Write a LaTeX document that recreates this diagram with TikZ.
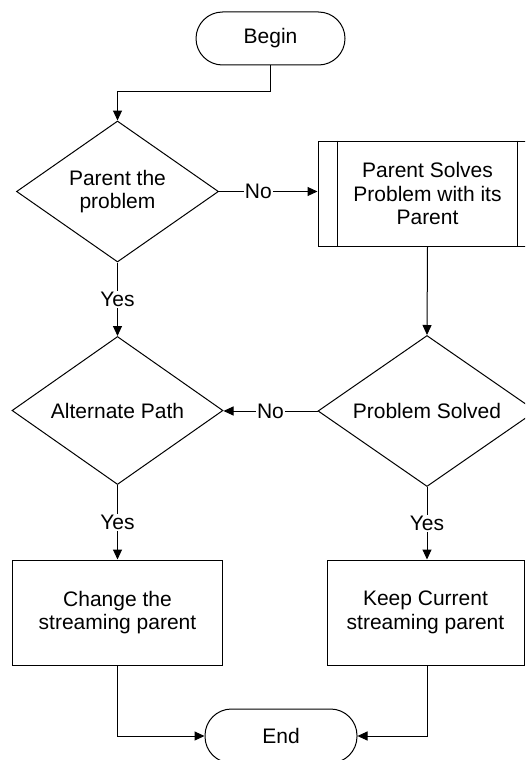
\documentclass[tikz,border=0pt]{standalone}
\usepackage{fontspec}
\setmainfont{Liberation Sans}
\usetikzlibrary{shapes.geometric,arrows.meta}
\begin{document}
\begin{tikzpicture}[x=1pt,y=-1pt,
  every node/.style={font=\fontsize{21}{23.5}\selectfont, text=black},
  base/.style={draw=black, line width=1pt, fill=white, inner sep=0pt, align=center},
  terminal/.style={base, rectangle, rounded corners=26.5pt},
  decision/.style={base, diamond, aspect=1.4},
  process/.style={base, rectangle},
  flow/.style={draw=black, line width=1pt, -{Triangle[length=10pt,width=9pt]}},
  tag/.style={fill=white, inner sep=1pt}
]
\clip (0,0) rectangle (525,760);
\useasboundingbox (0,0) rectangle (525,760);

% shapes
\node[terminal, minimum width=149pt, minimum height=53pt] (begin) at (270.5,38.5) {Begin};
\node[decision, minimum width=202pt, minimum height=141pt] (d1) at (117.5,191.5) {Parent the\\problem};
\node[process, minimum width=219pt, minimum height=105pt] (proc) at (427.5,193.5) {Parent Solves\\Problem with its\\Parent};
\draw[line width=1pt] ([xshift=20pt]proc.north west) -- ([xshift=20pt]proc.south west);
\draw[line width=1pt] ([xshift=-20pt]proc.north east) -- ([xshift=-20pt]proc.south east);
\node[decision, minimum width=218pt, minimum height=151pt] (d2) at (427,411) {Problem Solved};
\node[decision, minimum width=211pt, minimum height=148pt] (d3) at (117.5,410.5) {Alternate Path};
\node[process, minimum width=210pt, minimum height=105pt] (box1) at (117.5,612.5) {Change the\\streaming parent};
\node[process, minimum width=197pt, minimum height=105pt] (box2) at (425.5,612.5) {Keep Current\\streaming parent};
\node[terminal, minimum width=152pt, minimum height=54pt] (end) at (281,736) {End};

% connectors
\draw[flow] (begin.south) -- ++(0,26) -| (d1.north);
\draw[flow] (d1.east) -- node[tag, pos=0.4] {No} (d1.east -| proc.west);
\draw[flow] (proc.south) -- (d2.north);
\draw[flow] (d2.west) -- node[tag, pos=0.5] {No} (d2.west -| d3.east);
\draw[flow] (d1.south) -- node[tag] {Yes} (d3.north);
\draw[flow] (d3.south) -- node[tag] {Yes} (box1.north);
\draw[flow] (d2.south) -- node[tag] {Yes} (d2.south |- box2.north);
\draw[flow] (box1.south) |- (end.west);
\draw[flow] (d2.south |- box2.south) |- (end.east);
\end{tikzpicture}
\end{document}
